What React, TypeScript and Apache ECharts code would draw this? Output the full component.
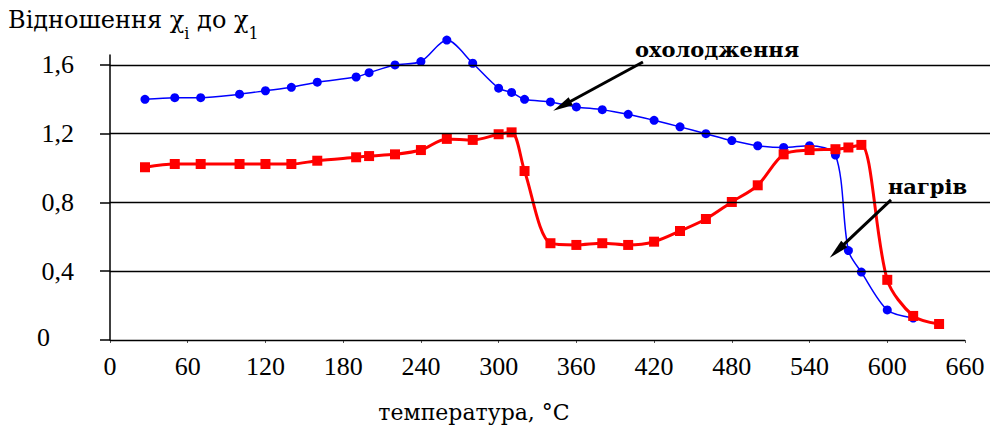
import React, { useEffect, useRef } from "react";
import * as echarts from "echarts";

const xTicks = [0, 60, 120, 180, 240, 300, 360, 420, 480, 540, 600, 660];
const yTicks = [0, 0.4, 0.8, 1.2, 1.6];

const coolT = [27, 50, 70, 100, 120, 140, 160, 190, 200, 220, 240, 260, 280, 300, 310, 320, 340, 360, 380, 400, 420, 440, 460, 480, 500, 520, 540, 560, 570, 580, 600, 620];
const coolV = [1.40, 1.41, 1.41, 1.43, 1.45, 1.47, 1.50, 1.53, 1.555, 1.60, 1.62, 1.745, 1.61, 1.465, 1.44, 1.40, 1.385, 1.356, 1.34, 1.313, 1.278, 1.24, 1.20, 1.16, 1.13, 1.12, 1.13, 1.076, 0.52, 0.395, 0.175, 0.128];

const heatT = [27, 50, 70, 100, 120, 140, 160, 190, 200, 220, 240, 260, 280, 300, 310, 320, 340, 360, 380, 400, 420, 440, 460, 480, 500, 520, 540, 560, 570, 580, 600, 620, 640];
const heatV = [1.005, 1.024, 1.024, 1.024, 1.024, 1.024, 1.043, 1.063, 1.07, 1.08, 1.105, 1.17, 1.164, 1.197, 1.208, 0.983, 0.563, 0.553, 0.563, 0.553, 0.572, 0.634, 0.704, 0.803, 0.90, 1.08, 1.105, 1.11, 1.12, 1.135, 0.35, 0.14, 0.093];

const FONT = "Liberation Serif";
const CYR = "DejaVu Serif";

export default function App() {
  const ref = useRef<HTMLDivElement>(null);
  useEffect(() => {
    if (!ref.current) return;
    const chart = echarts.init(ref.current, null, { renderer: "svg" });
    const coolData = coolT.map((t, i) => [t, coolV[i]]);
    const heatData = heatT.map((t, i) => [t, heatV[i]]);
    chart.setOption({
      animation: false,
      backgroundColor: "#fff",
      textStyle: { fontFamily: FONT },
      grid: { left: 110, right: 4, top: 55, bottom: 92 },
      xAxis: {
        type: "value",
        min: 0,
        max: 679.3,
        interval: 60,
        axisLine: { show: false },
        axisTick: { show: true, customValues: xTicks, length: 3, lineStyle: { color: "#555" } },
        axisLabel: {
          customValues: xTicks,
          formatter: (v: number) => (xTicks.indexOf(v) >= 0 ? String(v) : ""),
          fontFamily: FONT,
          fontSize: 26,
          color: "#000",
          margin: 13,
        },
        splitLine: { show: false },
      },
      yAxis: {
        type: "value",
        min: 0,
        max: 1.658,
        interval: 0.4,
        axisLine: { show: true, lineStyle: { color: "#000", width: 1.5 } },
        axisTick: { show: true, customValues: yTicks, length: 10, lineStyle: { color: "#000", width: 1.5 } },
        axisLabel: {
          customValues: yTicks,
          formatter: (v: number) => {
            if (yTicks.indexOf(Math.round(v * 10) / 10) < 0) return "";
            if (v === 0) return "{z|0}";
            return v.toFixed(1).replace(".", ",");
          },
          rich: { z: { fontFamily: FONT, fontSize: 26, color: "#000", padding: [0, 24, 6, 0] } },
          fontFamily: FONT,
          fontSize: 26,
          color: "#000",
          margin: 36,
        },
        splitLine: { show: false },
      },
      series: [
        {
          type: "line",
          name: "охолодження",
          data: coolData,
          clip: false,
          smooth: 0.3,
          symbol: "circle",
          symbolSize: 9,
          itemStyle: { color: "#0000ff" },
          lineStyle: { color: "#0000ff", width: 1.5 },
          z: 3,
          markLine: {
            silent: true,
            symbol: "none",
            label: { show: false },
            lineStyle: { color: "#000", width: 1.3, type: "solid" },
            data: [
              { yAxis: 0.4 },
              { yAxis: 0.8 },
              { yAxis: 1.2 },
              { yAxis: 1.6 },
              [{ coord: [0, 0] }, { coord: [660, 0] }],
            ],
          },
        },
        {
          type: "line",
          name: "нагрів",
          data: heatData,
          clip: false,
          smooth: 0.3,
          symbol: "rect",
          symbolSize: 10,
          itemStyle: { color: "#ff0000" },
          lineStyle: { color: "#ff0000", width: 3 },
          z: 4,
          markLine: {
            silent: true,
            symbol: ["none", "triangle"],
            symbolSize: [9, 20],
            label: { show: false },
            lineStyle: { color: "#000", width: 3, type: "solid" },
            data: [
              [{ coord: [411.4, 1.617] }, { coord: [348.9, 1.361] }],
              [{ coord: [602.9, 0.815] }, { coord: [561.2, 0.518] }],
            ],
          },
        },
      ],
      graphic: [
        {
          type: "text",
          x: 8,
          y: 5,
          style: {
            text: "Відношення χ{s|i} до χ{s|1}",
            fontFamily: CYR,
            fontSize: 24,
            fill: "#000",
            lineHeight: 30,
            rich: {
              s: { fontSize: 16, fontFamily: CYR, lineHeight: 10, padding: [20, 0, 0, 0], verticalAlign: "top", fill: "#000" },
            },
          },
        },
        {
          type: "text",
          x: 635,
          y: 49,
          style: { text: "охолодження", fontFamily: CYR, fontSize: 21, fontWeight: "bold", fill: "#000", verticalAlign: "middle" },
        },
        {
          type: "text",
          x: 888,
          y: 186,
          style: { text: "нагрів", fontFamily: CYR, fontSize: 21, fontWeight: "bold", fill: "#000", verticalAlign: "middle" },
        },
        {
          type: "text",
          x: 474,
          y: 412,
          style: { text: "температура, °C", fontFamily: CYR, fontSize: 22, fill: "#000", align: "center", verticalAlign: "middle" },
        },
      ],
    });
    return () => chart.dispose();
  }, []);
  return <div ref={ref} style={{ width: 994, height: 432, position: "absolute", left: 0, top: 0 }} />;
}
